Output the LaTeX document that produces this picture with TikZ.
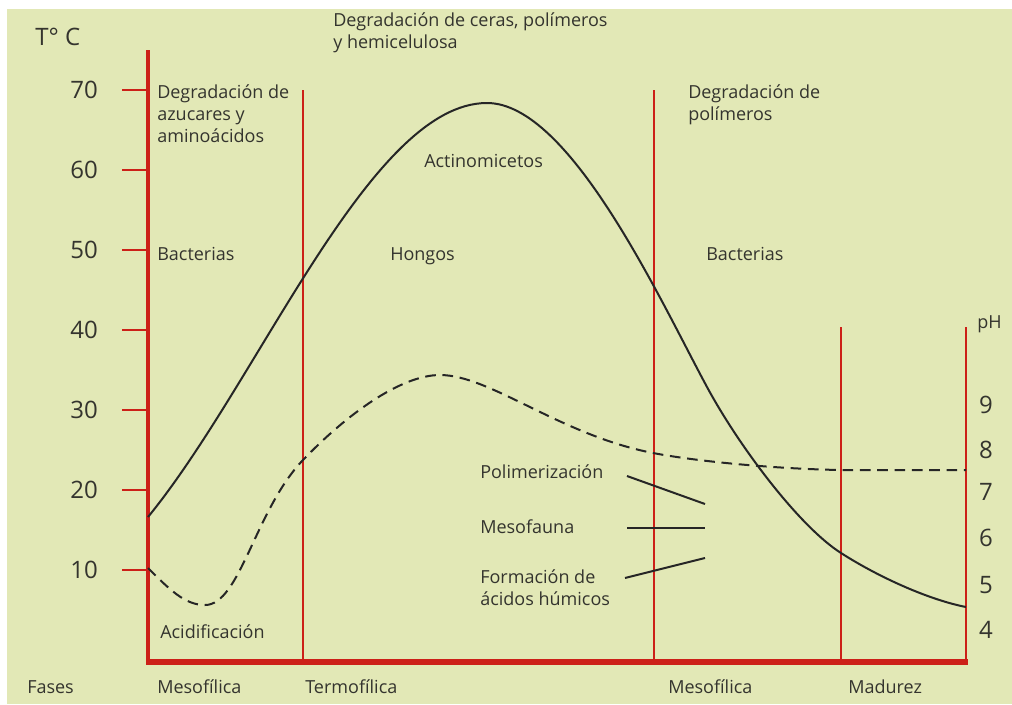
\documentclass[tikz,border=0pt]{standalone}
\usepackage{fontspec}
\setmainfont{Open Sans}
\usetikzlibrary{positioning}
\definecolor{fondo}{RGB}{226,232,182}
\definecolor{rojo}{RGB}{204,32,24}
\definecolor{texto}{RGB}{52,52,46}
\tikzset{
  linearoja/.style={draw=rojo, line width=1.9pt},
  ejebase/.style={draw=rojo, line width=3.8pt},
  curva/.style={draw=black!85, line width=1.5pt},
  etiqueta/.style={text=texto, inner sep=0pt, font=\fontsize{13.5}{16.5}\selectfont, align=left},
  numero/.style={text=texto, inner sep=0pt, font=\fontsize{18}{20}\selectfont}
}
\begin{document}
\begin{tikzpicture}[x=0.75pt, y=-0.75pt]
\useasboundingbox (0,0) rectangle (1012,704);
\fill[white] (0,0) rectangle (1012,704);
\fill[fondo] (7,9) rectangle (1012,704);

% ejes y fases
\draw[linearoja, line width=2.3pt] (148,50) -- (148,662);
\foreach \t/\v in {90/70,170/60,250/50,330/40,410/30,490/20,570/10}{
  \draw[linearoja] (122,\t) -- (148,\t);
  \node[numero, anchor=east] (t\v) at (98,\t) {\v};
}
\draw[linearoja] (303,90) -- (303,662);
\draw[linearoja] (654,90) -- (654,662);
\draw[linearoja] (841,327) -- (841,662);
\draw[linearoja] (966,327) -- (966,662);
\draw[ejebase] (146,662) -- (968,662);
\foreach \p/\v in {405/9,450/8,492/7,538/6,585/5,630/4}
  \node[numero] (ph\v) at (986,\p) {\v};

% curvas
\draw[curva] (148,517) .. controls (260,380) and (370,103) .. (487,103)
  .. controls (570,103) and (660,300) .. (707,387)
  .. controls (740,448) and (800,527) .. (841,553)
  .. controls (880,578) and (930,600) .. (966,607);
\draw[curva, dash pattern=on 8pt off 5pt] (148,568) .. controls (170,590) and (185,605) .. (205,605)
  .. controls (240,605) and (255,510) .. (303,460)
  .. controls (345,416) and (400,375) .. (440,375)
  .. controls (490,375) and (560,435) .. (653,453)
  .. controls (700,462) and (780,469) .. (841,470) -- (966,470);

\draw[curva] (627,476) -- (705,504);
\draw[curva] (627,528) -- (705,528);
\draw[curva] (625,578) -- (705,558);

% textos
\node[numero, anchor=base west] (temp) at (35,45) {T° C};
\node[etiqueta, anchor=base west] (ph) at (977,328) {pH};
\node[etiqueta, anchor=north west] (azucar) at (157,84) {Degradación de\\azucares y\\aminoácidos};
\node[etiqueta, anchor=north west] (ceras) at (333,12) {Degradación de ceras, polímeros\\y hemicelulosa};
\node[etiqueta, anchor=north west] (polim) at (688,84) {Degradación de\\polímeros};
\node[etiqueta, anchor=base west] (actino) at (424,167) {Actinomicetos};
\node[etiqueta, anchor=base west] (bact1) at (157,260) {Bacterias};
\node[etiqueta, anchor=base west] (hongos) at (390,260) {Hongos};
\node[etiqueta, anchor=base west] (bact2) at (706,260) {Bacterias};
\node[etiqueta, anchor=base west] (polimer) at (480,478) {Polimerización};
\node[etiqueta, anchor=base west] (mesofa) at (480,533) {Mesofauna};
\node[etiqueta, anchor=north west] (humicos) at (480,569) {Formación de\\ácidos húmicos};
\node[etiqueta, anchor=base west] (acidif) at (160,638) {Acidificación};
\node[etiqueta, anchor=base west] (fases) at (27,693) {Fases};
\node[etiqueta, anchor=base west] (meso1) at (157,693) {Mesofílica};
\node[etiqueta, anchor=base west] (termo) at (305,693) {Termofílica};
\node[etiqueta, anchor=base west] (meso2) at (668,693) {Mesofílica};
\node[etiqueta, anchor=base west] (madurez) at (848,693) {Madurez};
\end{tikzpicture}
\end{document}
